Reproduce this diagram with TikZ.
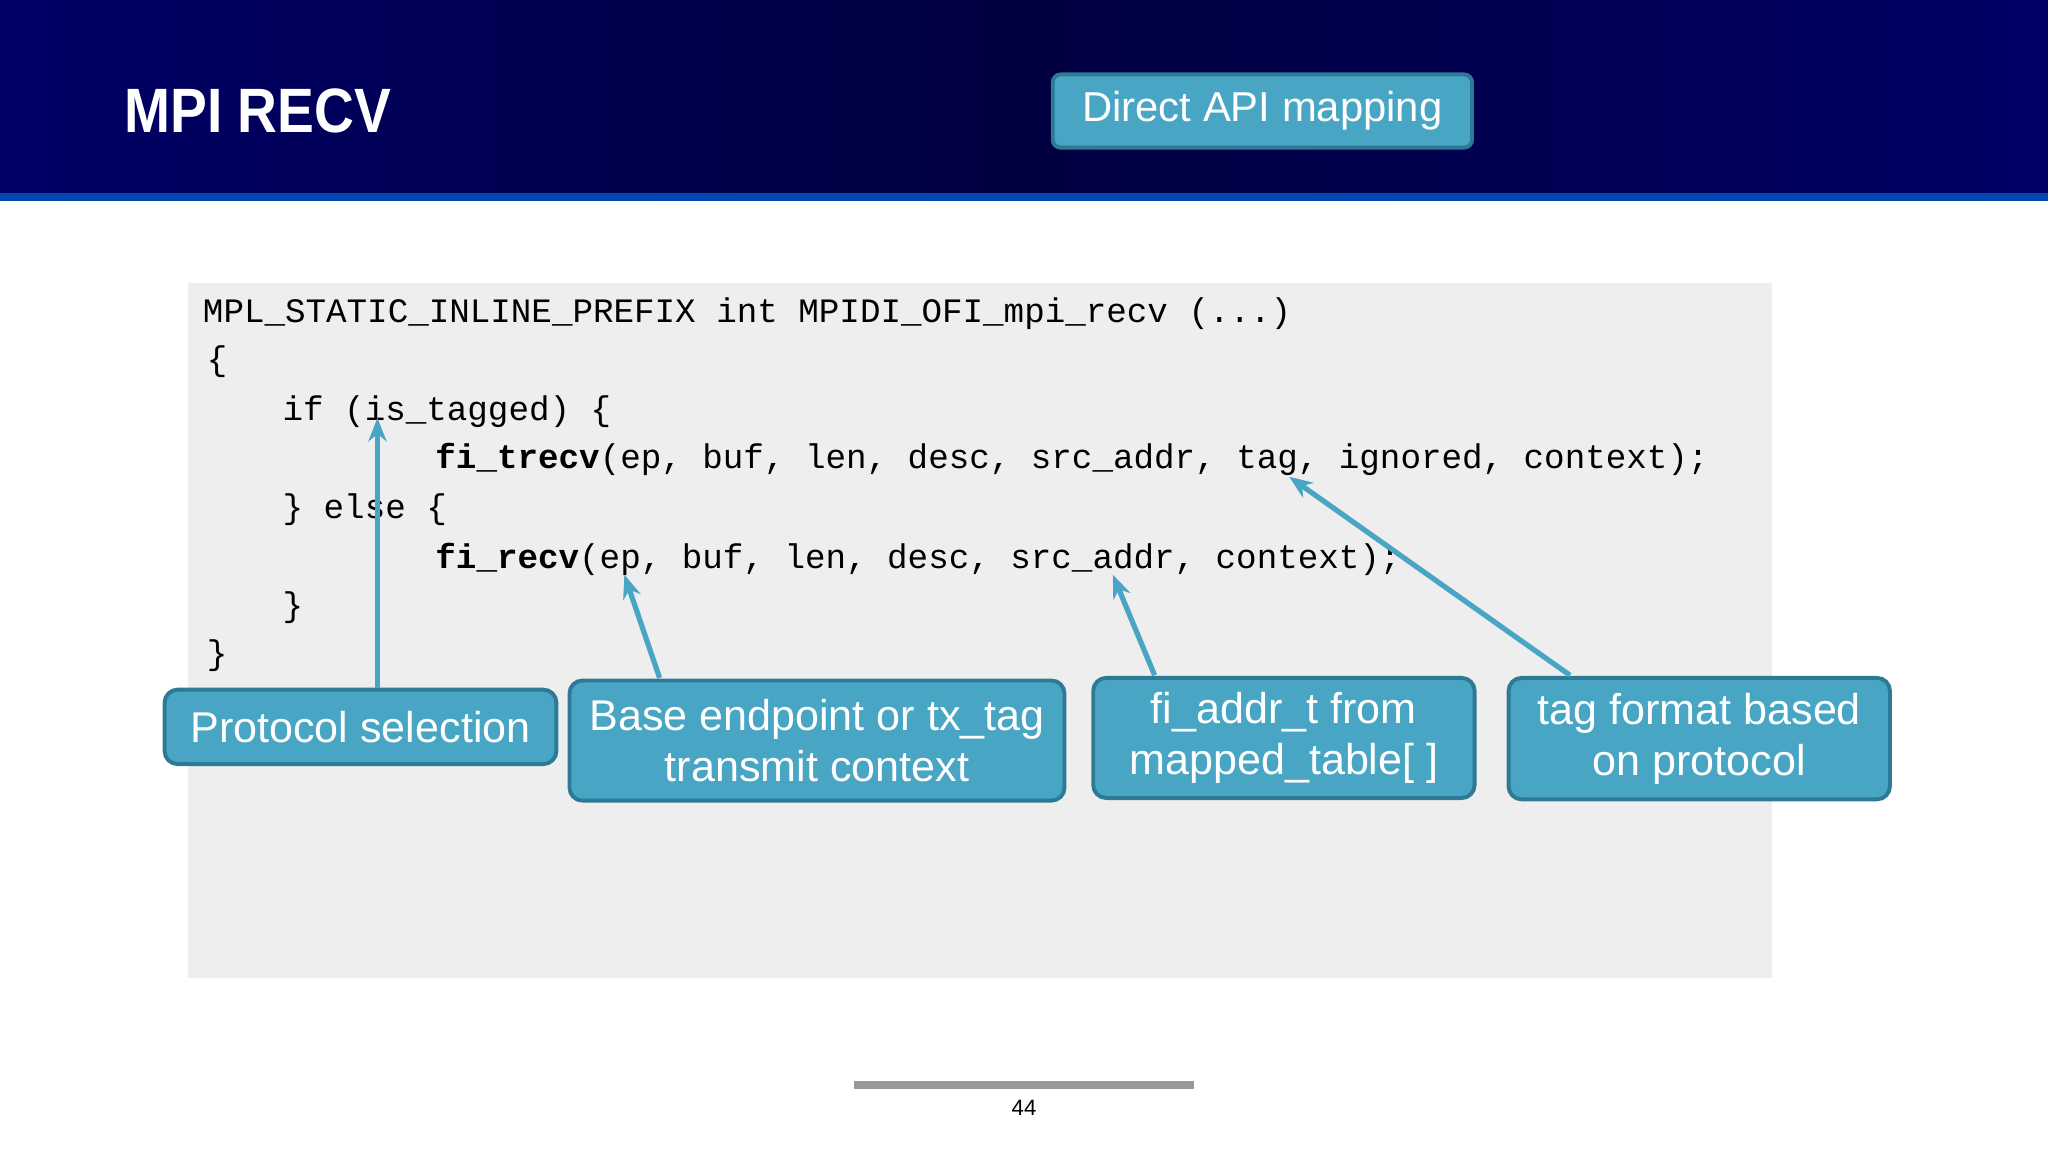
\documentclass[tikz,border=0pt]{standalone}
\usepackage{fontspec}
\setmainfont{Liberation Sans}
\newfontfamily\codefont{Liberation Mono}
\usetikzlibrary{arrows.meta,shadings}
\definecolor{teal}{HTML}{48A5C4}
\definecolor{tealdark}{HTML}{2C7A96}
\definecolor{codebg}{HTML}{EFEEEF}
\pgfdeclarehorizontalshading{hdr}{100bp}{color(0bp)=(blue!55!cyan!60!black); color(25bp)=(blue!40!black); color(50bp)=(blue!25!black); color(75bp)=(blue!40!black); color(100bp)=(blue!55!cyan!60!black)}
\begin{document}
\begin{tikzpicture}[x=0.5pt,y=-0.5pt,
  callout/.style={draw=tealdark,line width=1.5pt,fill=teal,rounded corners=5pt,text=white,font=\fontsize{16.5}{19.5}\selectfont,align=center,inner sep=0pt},
  codeline/.style={anchor=base west,inner sep=0pt,font=\codefont\fontsize{13.1}{14}\selectfont},
  pointer/.style={draw=teal,line width=2pt,-{Stealth[length=9pt,width=7pt]}}]
\useasboundingbox (0,0) rectangle (1568,882);
% header
\shade[shading=hdr] (0,0) rectangle (1568,150);
\fill[blue!60!cyan!70!black] (0,148) rectangle (1568,154);
\node[anchor=west,text=white,font=\bfseries\fontsize{24}{28}\selectfont,xscale=0.88,inner sep=0pt] (title) at (95,85) {MPI RECV};
\node[draw=tealdark,line width=1.5pt,fill=teal,rounded corners=3pt,minimum width=160.5pt,minimum height=28pt,text=white,font=\fontsize{16}{19}\selectfont] (dam) at (966.5,85) {Direct API mapping};
% code box
\fill[codebg] (144,217) rectangle (1357,749);
\node[codeline] (l1) at (155,247) {MPL\_STATIC\_INLINE\_PREFIX int MPIDI\_OFI\_mpi\_recv (...)};
\node[codeline] (l2) at (158,284) {\{};
\node[codeline] (l3) at (216,322) {if (is\_tagged) \{};
\node[codeline] (l4) at (333,359) {\textbf{fi\_trecv}(ep, buf, len, desc, src\_addr, tag, ignored, context);};
\node[codeline] (l5) at (216,397) {\} else \{};
\node[codeline] (l6) at (333,435) {\textbf{fi\_recv}(ep, buf, len, desc, src\_addr, context);};
\node[codeline] (l7) at (216,472) {\}};
\node[codeline] (l8) at (158,509) {\}};
% callouts
\node[callout,minimum width=150pt,minimum height=28.5pt] (ps) at (276,556.5) {Protocol selection};
\node[callout,minimum width=189.5pt,minimum height=46pt] (be) at (625.5,567) {Base endpoint or tx\_tag\\transmit context};
\node[callout,minimum width=146pt,minimum height=46pt] (fa) at (983,565) {fi\_addr\_t from\\mapped\_table[ ]};
\node[callout,minimum width=146pt,minimum height=46.5pt] (tf) at (1301,565.5) {tag format based\\on protocol};
\coordinate (c1) at (289,320);
\coordinate (c2) at (478,440);
\coordinate (c3) at (852,440);
\coordinate (c4) at (987,365);
\coordinate (s1) at (289,527);
\coordinate (s2) at (505,519);
\coordinate (s3) at (884,517);
\coordinate (s4) at (1202,517);
\draw[pointer] (s1) -- (c1);
\draw[pointer] (s2) -- (c2);
\draw[pointer] (s3) -- (c3);
\draw[pointer] (s4) -- (c4);
% footer
\fill[gray!80] (654,828) rectangle (914,834);
\node[font=\fontsize{8.5}{10}\selectfont] (pg) at (784,848) {44};
\end{tikzpicture}
\end{document}
